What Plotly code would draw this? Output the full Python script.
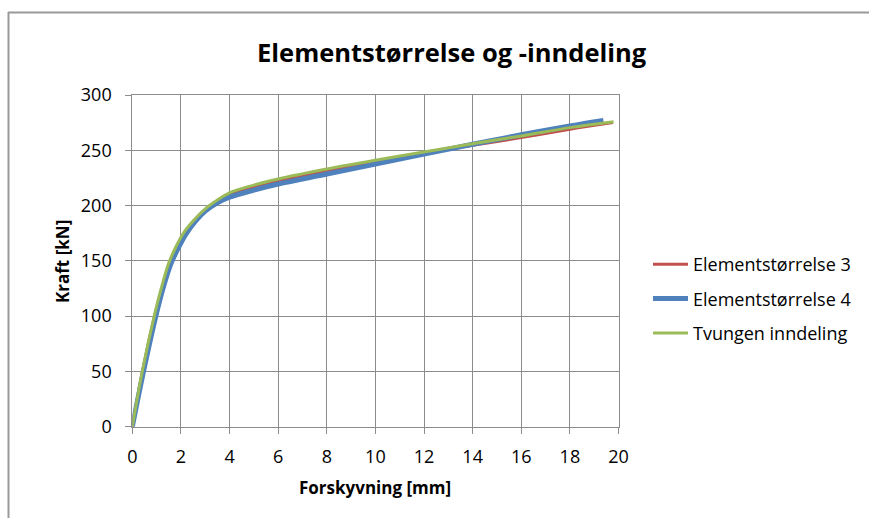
import plotly.graph_objects as go

W, H = 869, 518

# Displacement [mm] and force [kN] for each mesh variant
x_e3 = [0, 0.42, 0.92, 1.22, 1.52, 1.82, 2.12, 2.5, 3.0, 3.5, 4.0, 5.0, 6.0, 8.0, 10.0, 12.0, 14.0, 16.0, 18.0, 19.77]
y_e3 = [0, 50, 100, 125, 146, 161, 172.5, 184, 195, 203, 209.5, 216.5, 222.5, 231, 239.5, 247.5, 254.5, 261.5, 269, 275]

x_e4 = [0, 0.5, 1.0, 1.3, 1.6, 1.9, 2.2, 2.6, 3.0, 3.5, 4.0, 5.0, 6.0, 8.0, 10.0, 12.0, 14.0, 16.0, 18.0, 19.38]
y_e4 = [0, 54, 103, 128, 148, 162, 174, 186, 195, 202.5, 207.5, 214, 219.5, 228.5, 237.5, 246.5, 255.5, 264, 272, 277]

x_tv = [0, 0.41, 0.9, 1.2, 1.5, 1.8, 2.1, 2.5, 3.0, 3.5, 4.0, 5.0, 6.0, 8.0, 10.0, 12.0, 14.0, 16.0, 18.0, 19.8]
y_tv = [0, 50, 100, 126, 148, 163, 175, 186, 197, 205, 211.5, 218.5, 224, 233, 241, 248.5, 256, 263, 270.5, 275.8]

x_ticks = [0, 2, 4, 6, 8, 10, 12, 14, 16, 18, 20]
y_ticks = [0, 50, 100, 150, 200, 250, 300]

series = [
    ("Elementstørrelse 3", x_e3, y_e3, "#C0504D", 3),
    ("Elementstørrelse 4", x_e4, y_e4, "#4F81BD", 5),
    ("Tvungen inndeling", x_tv, y_tv, "#9BBB59", 3),
]

FONT = "Open Sans"
GRID = "#8C8C8C"

fig = go.Figure()
for i, (name, xs, ys, col, lw) in enumerate(series):
    fig.add_trace(go.Scatter(
        x=xs, y=ys, name=name, mode="lines",
        line=dict(color=col, width=lw, shape="spline", smoothing=1.0),
        legendgroup=f"g{i}",
    ))

def px_x(p):
    return p / W

def px_y(p):
    return 1 - p / H

axis_common = dict(
    showgrid=True, gridcolor=GRID, gridwidth=1,
    showline=True, linecolor=GRID, linewidth=1, mirror=True,
    ticks="outside", ticklen=6, tickcolor=GRID,
    zeroline=False, automargin=False,
    tickfont=dict(family=FONT, size=18, color="#000000"),
)

fig.update_layout(
    width=W, height=H,
    margin=dict(l=0, r=0, t=0, b=0, autoexpand=False),
    paper_bgcolor="white", plot_bgcolor="white",
    showlegend=True,
    legend=dict(
        x=px_x(648), y=px_y(246), xanchor="left", yanchor="top",
        font=dict(family=FONT, size=18, color="#000000"),
        tracegroupgap=8, itemwidth=35, bgcolor="rgba(0,0,0,0)",
    ),
    xaxis=dict(
        domain=[px_x(132.3), px_x(618.5)], range=[0, 20],
        tickvals=x_ticks, ticklabelstandoff=8, **axis_common,
    ),
    yaxis=dict(
        domain=[px_y(426.7), px_y(95)], range=[0, 300],
        tickvals=y_ticks, ticklabelstandoff=10, **axis_common,
    ),
    annotations=[
        dict(text="<b>Elementstørrelse og -inndeling</b>", x=px_x(452), y=px_y(52),
             xref="paper", yref="paper", xanchor="center", yanchor="middle",
             showarrow=False, font=dict(family=FONT, size=25.5, color="#000000")),
        dict(text="<b>Forskyvning [mm]</b>", x=px_x(375), y=px_y(487),
             xref="paper", yref="paper", xanchor="center", yanchor="middle",
             showarrow=False, font=dict(family=FONT, size=17, color="#000000")),
        dict(text="<b>Kraft [kN]</b>", x=px_x(62), y=px_y(262),
             xref="paper", yref="paper", xanchor="center", yanchor="middle",
             showarrow=False, textangle=-90,
             font=dict(family=FONT, size=17, color="#000000")),
    ],
    shapes=[
        # outer chart frame (left and top edges)
        dict(type="line", xref="paper", yref="paper",
             x0=px_x(8.5), x1=px_x(8.5), y0=px_y(12), y1=0,
             line=dict(color="#9A9A9A", width=2)),
        dict(type="line", xref="paper", yref="paper",
             x0=px_x(8), x1=1, y0=px_y(12.5), y1=px_y(12.5),
             line=dict(color="#9A9A9A", width=2)),
    ],
)

fig.write_html(
    "out.html",
    post_script="document.body.style.margin='0px';document.documentElement.style.overflow='hidden';",
)
